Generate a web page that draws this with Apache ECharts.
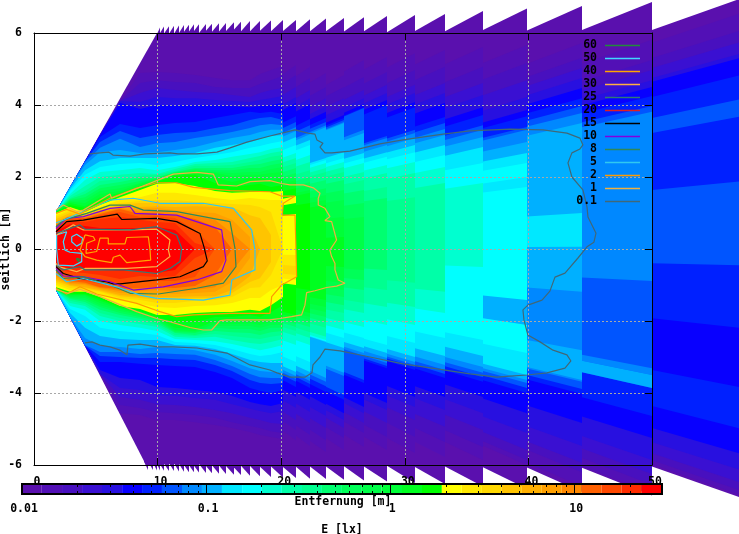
<!DOCTYPE html>
<html>
<head>
<meta charset="utf-8">
<title>Beleuchtungsstaerke</title>
<style>
html,body{margin:0;padding:0;background:#fff}
#chart{width:739px;height:534px}
</style>
<script src="https://cdn.jsdelivr.net/npm/echarts@6/dist/echarts.min.js"></script>
</head>
<body>
<div id="chart"></div>
<script>
// colour steps of the E scale: lower lux limit of each step and its colour
var bandLux = [0.01,0.0128,0.0165,0.0212,0.0272,0.035,0.0449,0.0576,0.074,0.095,0.122,0.157,0.201,0.258,0.332,0.426,0.547,0.702,0.9,1.16,1.49,1.91,2.45,3.15,4.04,5.19,6.66,8.55,11,14.1,18.1,23.3];
var luxMax = 30;
var bandColors = ['#5a10ae','#5210b6','#4810bf','#3a10d2','#2810e0','#0800ff','#0020ff','#0055ff','#0088ff','#00b0ff','#00e8ff','#00ffff','#00ffd0','#00ffa8','#00ff90','#00ff70','#00ff58','#00ff48','#00ff38','#00ff20','#00ff00','#ffff00','#ffe800','#ffd800','#ffc400','#ffb000','#ffa000','#ff8800','#ff6000','#ff4800','#ff2c00','#ff0000'];
var cbMinor = [0.02,0.03,0.04,0.05,0.06,0.07,0.08,0.09,0.2,0.3,0.4,0.5,0.6,0.7,0.8,0.9,2,3,4,5,6,7,8,9,20];
var cbMajor = [0.1,1,10];

// white wedge outline of the lowest step near the lamp
var wedgeX = [1.78,9.95,9.95,9.06,1.78];
var wedgeY = [1.03,6.0,-6.0,-6.0,-1.14];

// outer saw teeth: column edges (m) and lateral reach at each column's right edge
var toothX = [8.86,9.22,9.59,9.93,10.23,10.54,10.9,11.3,11.73,12.16,12.56,12.97,13.37,13.92,14.38,14.94,15.53,16.16,16.72,17.5,18.31,19.17,20.15,21.17,22.33,23.62,25.06,26.7,28.56,30.83,33.25,36.33,39.89,44.34,50,57.28];
var toothTop = [0,0,0,6.15,6.18,6.19,6.2,6.21,6.22,6.23,6.24,6.24,6.25,6.26,6.27,6.28,6.3,6.31,6.33,6.33,6.35,6.36,6.36,6.38,6.4,6.42,6.44,6.47,6.5,6.53,6.61,6.68,6.75,6.86,6.97];
var toothLow = [-6.14,-6.14,-6.15,-6.15,-6.16,-6.17,-6.17,-6.18,-6.19,-6.2,-6.2,-6.21,-6.22,-6.23,-6.24,-6.25,-6.27,-6.28,-6.3,-6.31,-6.33,-6.35,-6.36,-6.38,-6.39,-6.41,-6.43,-6.46,-6.5,-6.53,-6.6,-6.66,-6.75,-6.85,-6.92];

// near field: for each distance, lateral position where E rises above step 1,2,3...
var nearX = [1.78,2.91,4.13,5.34,6.96,8.58,9.95,11.41,13.03,14.64,16.02,17.48,18.29,19.17,20.15];
var nearUp = [
  [1.03,1.03,1.03,1.03,1.03,1.03,1.03,1.03,1.03,1.03,1.03,1.03,1.03,1.03,1.03,1.03,1.03,1.03,1.03,1.03,1,.94,.89,.83,.78,.72,.69,.67,.64,.58,.5],
  [1.72,1.72,1.72,1.72,1.72,1.72,1.72,1.72,1.72,1.67,1.61,1.53,1.47,1.42,1.39,1.36,1.33,1.31,1.28,1.22,1.17,1.11,1.06,1,.94,.92,.89,.86,.83,.78,.69],
  [2.44,2.44,2.44,2.44,2.44,2.44,2.44,2.42,2.33,2.19,2.06,1.92,1.75,1.61,1.53,1.44,1.36,1.28,1.19,1.14,1.03,1,.97,.94,.92,.9,.89,.86,.85,.75,.64],
  [3.17,3.17,3.17,3.17,3.17,3.11,2.97,2.81,2.69,2.44,2.28,2.14,2,1.89,1.78,1.69,1.61,1.53,1.44,1.36,1.22,1.17,1.11,1.08,1.06,1.03,1,.97,.94,.83,.58],
  [4.11,4.11,4.11,4.11,4.06,3.47,3.28,3.06,2.75,2.53,2.36,2.19,2.06,1.94,1.86,1.78,1.69,1.61,1.56,1.5,1.44,1.36,1.28,1.22,1.19,1.17,1.14,1.11,1.03,.89,.58],
  [4.89,4.61,4.33,4.08,3.89,3.36,3.08,2.83,2.67,2.53,2.39,2.25,2.11,2.03,1.97,1.89,1.83,1.81,1.75,1.72,1.64,1.44,1.33,1.28,1.17,1.11,1.03,.97,.89,.81,.58],
  [4.92,4.69,4.47,4.22,4,3.44,3.17,2.94,2.69,2.53,2.33,2.19,2.08,2.06,2,1.97,1.96,1.94,1.92,1.86,1.81,1.56,1.36,1.28,1.19,1.14,1.06,1,.92,.75,.61],
  [4.89,4.64,4.42,4.19,4,3.5,3.22,2.97,2.75,2.58,2.42,2.28,2.22,2.17,2.14,2.13,2.11,2.08,2.07,2.03,1.83,1.56,1.36,1.28,1.17,1.08,1,.94,.86,.72,.53],
  [4.83,4.61,4.36,4.19,4,3.53,3.25,3.08,2.83,2.67,2.53,2.42,2.36,2.31,2.25,2.22,2.19,2.17,2.14,2.06,1.75,1.5,1.31,1.28,1.19,1.03,.92,.83,.53,.17,0],
  [4.75,4.5,4.33,4.14,4,3.64,3.36,3.17,2.97,2.81,2.61,2.47,2.39,2.31,2.25,2.19,2.14,2.11,2,1.83,1.61,1.42,1.28,1.19,1.17,1,.81,.61,0,0],
  [4.69,4.47,4.28,4.11,3.97,3.72,3.44,3.25,3.08,2.89,2.69,2.56,2.42,2.33,2.25,2.19,2.11,2.03,1.86,1.72,1.56,1.36,1.25,1.17,1.14,.81,.44,0],
  [4.69,4.47,4.22,4.08,3.94,3.81,3.58,3.36,3.17,2.97,2.81,2.64,2.53,2.42,2.33,2.25,2.14,2.06,1.97,1.78,1.58,1.42,1.22,.94,.61,.33,0],
  [4.86,4.58,4.33,4.14,3.97,3.78,3.64,3.44,3.25,3.06,2.86,2.69,2.58,2.47,2.36,2.25,2.14,2.06,1.97,1.81,1.58,1.39,1.17,.86,0],
  [4.97,4.69,4.42,4.19,4,3.81,3.67,3.47,3.31,3.14,2.94,2.78,2.67,2.56,2.44,2.33,2.22,2.11,1.89,1.72,1.58,1.36,1.03,.39],
  [5.08,4.81,4.47,4.25,4.06,3.75,3.58,3.44,3.31,3.17,3,2.83,2.72,2.61,2.5,2.39,2.28,2.14,1.97,1.78,1.61,1.36,0]
];
var nearLow = [
  [-1.14,-1.14,-1.14,-1.14,-1.14,-1.14,-1.14,-1.14,-1.14,-1.14,-1.14,-1.14,-1.14,-1.14,-1.14,-1.14,-1.14,-1.14,-1.14,-1.11,-1.06,-1,-.94,-.89,-.83,-.78,-.72,-.67,-.61,-.56,-.5],
  [-1.89,-1.89,-1.89,-1.89,-1.89,-1.89,-1.89,-1.89,-1.89,-1.78,-1.67,-1.58,-1.5,-1.44,-1.39,-1.36,-1.33,-1.31,-1.28,-1.25,-1.19,-1.14,-1.08,-1.03,-1,-.97,-.94,-.89,-.81,-.64,-.53],
  [-2.69,-2.69,-2.69,-2.69,-2.69,-2.69,-2.69,-2.67,-2.47,-2.19,-1.86,-1.69,-1.58,-1.53,-1.47,-1.42,-1.36,-1.31,-1.28,-1.25,-1.19,-1.17,-1.11,-1.08,-1.06,-1,-.97,-.94,-.89,-.67,-.53],
  [-3.47,-3.47,-3.47,-3.47,-3.36,-3.14,-2.97,-2.86,-2.69,-2.42,-2.19,-2,-1.86,-1.78,-1.69,-1.61,-1.56,-1.5,-1.44,-1.39,-1.33,-1.25,-1.19,-1.17,-1.14,-1.11,-1.08,-1.06,-.97,-.72,-.58],
  [-4.56,-4.33,-4.11,-3.86,-3.58,-3.14,-3,-2.86,-2.72,-2.5,-2.28,-2.11,-2,-1.92,-1.83,-1.78,-1.72,-1.67,-1.64,-1.61,-1.58,-1.44,-1.36,-1.31,-1.28,-1.22,-1.17,-1.11,-.97,-.83,-.61],
  [-4.61,-4.42,-4.19,-3.92,-3.64,-3.19,-3.03,-2.92,-2.78,-2.53,-2.33,-2.19,-2.08,-2,-1.94,-1.89,-1.83,-1.81,-1.78,-1.72,-1.67,-1.53,-1.42,-1.36,-1.31,-1.22,-1.17,-1.08,-.92,-.75,-.61],
  [-4.75,-4.53,-4.31,-4.06,-3.83,-3.22,-3.03,-2.89,-2.72,-2.53,-2.39,-2.28,-2.17,-2.11,-2.06,-2,-1.97,-1.94,-1.92,-1.89,-1.83,-1.61,-1.5,-1.42,-1.33,-1.22,-1.14,-1.06,-.89,-.78,-.67],
  [-4.75,-4.56,-4.33,-4.08,-3.86,-3.25,-3.06,-2.92,-2.75,-2.67,-2.58,-2.5,-2.44,-2.39,-2.33,-2.31,-2.28,-2.25,-2.19,-2.03,-1.83,-1.64,-1.5,-1.42,-1.33,-1.25,-1.17,-1.08,-.89,-.75,-.58],
  [-4.81,-4.61,-4.39,-4.14,-3.92,-3.28,-3.08,-2.94,-2.81,-2.69,-2.61,-2.53,-2.47,-2.42,-2.39,-2.33,-2.31,-2.28,-2.22,-2.03,-1.78,-1.58,-1.44,-1.36,-1.31,-1.22,-1.14,-1.03,-.78,-.25,0],
  [-4.89,-4.69,-4.47,-4.19,-3.97,-3.42,-3.22,-3.08,-2.94,-2.78,-2.67,-2.56,-2.44,-2.36,-2.28,-2.19,-2.14,-2.08,-2,-1.89,-1.75,-1.56,-1.42,-1.36,-1.31,-1.19,-1.06,-.72,0,0],
  [-4.97,-4.81,-4.56,-4.31,-4.08,-3.58,-3.39,-3.25,-3.11,-2.92,-2.78,-2.64,-2.53,-2.42,-2.31,-2.22,-2.14,-2.08,-2,-1.89,-1.75,-1.5,-1.33,-1.22,-1.14,-.92,-.61,0],
  [-5.08,-4.92,-4.69,-4.44,-4.25,-3.86,-3.64,-3.47,-3.31,-3.08,-2.92,-2.75,-2.61,-2.47,-2.33,-2.22,-2.14,-2.06,-1.97,-1.83,-1.69,-1.36,-1.08,-.92,-.75,-.25,0],
  [-5.17,-4.97,-4.75,-4.5,-4.31,-3.94,-3.72,-3.56,-3.39,-3.14,-2.97,-2.81,-2.64,-2.5,-2.39,-2.28,-2.19,-2.11,-2.03,-1.89,-1.72,-1.36,-1.06,-.81,0],
  [-5.22,-5.06,-4.83,-4.56,-4.36,-4,-3.75,-3.58,-3.42,-3.17,-2.94,-2.75,-2.58,-2.44,-2.31,-2.19,-2.11,-2.03,-1.92,-1.75,-1.56,-1.14,-.72,-.36],
  [-5.28,-5.11,-4.86,-4.5,-4.28,-3.92,-3.72,-3.58,-3.44,-3.17,-2.86,-2.67,-2.5,-2.39,-2.28,-2.19,-2.11,-2.03,-1.92,-1.56,-1.33,-1,0]
];

// far field columns: same step positions, read at each column's right edge
var farX = [20.15,21.17,22.33,23.62,25.06,26.7,28.56,30.83,33.25,36.33,39.89,44.34,50,57.28];
var farUp = [
  [5.11,4.83,4.5,4.22,4.06,3.69,3.53,3.39,3.28,3.11,2.89,2.67,2.53,2.39,2.25,2.11,2,1.92,1.83,1.69,1.47,-.17,-.47],
  [5.06,4.75,4.42,4.19,4.03,3.61,3.44,3.25,3.19,3.03,2.89,2.61,2.42,2.19,2,1.86,1.78,1.64,1.56,1.28],
  [4.89,4.5,4.19,3.97,3.81,3.64,3.53,3.44,3.39,2.53,2.47,2.39,2.25,2.14,1.92,1.69,1.5,1.36,1.22],
  [4.83,4.5,4.19,3.94,3.72,3.64,3.58,3.53,3.5,2.69,2.53,2.42,2.28,2.14,1.92,1.64,1.36,.89,.33],
  [5.25,4.78,4.42,4.19,4.03,3.94,3.92,3.31,3.22,2.67,2.53,2.39,2.14,1.92,1.64,1.28,.89],
  [5.33,4.92,4.56,4.33,4.14,4,3.14,3.08,2.89,2.69,2.56,2.33,2.11,1.72,1.42],
  [5.44,4.97,4.56,4.33,4.08,3.94,3.31,3.22,3.08,2.89,2.69,2.42,2.11,1.44],
  [5.53,5.06,4.61,4.33,4.06,3.67,3.5,3.33,3.17,2.89,2.61,2.28,1.83],
  [5.61,5.06,4.61,4.28,3.94,3.72,3.44,3.31,3.11,2.83,2.39,1.83],
  [5.67,5.17,4.69,4.22,3.86,3.69,3.39,3.31,2.97,2.67,2.39],
  [5.72,5.31,5.03,4.75,4.47,4.19,3.97,3.78,3.5,1],
  [5.81,5.25,4.97,4.69,4.5,4.25,3.97,3.81],
  [6.56,6.08,5.76,5.44,5.32,4.84,1.88]
];
var farLow = [
  [-5.31,-5.03,-4.75,-4.42,-4.11,-3.83,-3.69,-3.61,-3.53,-3.42,-3.14,-2.67,-2.42,-2.28,-2.17,-2.08,-2.03,-1.97,-1.92,-1.83,-1,-.86,-.72],
  [-5.47,-5.17,-4.83,-4.53,-4.19,-3.86,-3.75,-3.67,-3.56,-3.42,-3.14,-2.67,-2.47,-2.31,-2.17,-2.06,-1.97,-1.89,-1.78,-1.14],
  [-5.64,-5.31,-4.97,-4.64,-4.33,-3.97,-3.81,-3.69,-3.58,-2.58,-2.56,-2.53,-2.44,-2.19,-2.03,-1.89,-1.75,-1.61,-1.42],
  [-5.58,-5.25,-4.97,-4.75,-4.56,-4.19,-4.06,-3.53,-3.44,-2.75,-2.47,-2.25,-2.03,-1.78,-1.56,-1.33,-1.14,-.94,-.5],
  [-5.5,-5.11,-4.83,-4.56,-4.39,-3.72,-3.64,-2.97,-2.89,-2.75,-2.47,-2.17,-1.78,-1.5,-1.14,-.86,-.58],
  [-5.58,-5.22,-4.83,-4.47,-4.28,-3.31,-3.25,-3.17,-3.03,-2.89,-2.67,-2.11,-1.61,-1.14,-.58],
  [-5.67,-5.22,-4.75,-4.39,-4.11,-3.36,-3.28,-3.22,-3.14,-3,-2.61,-2.11,-1.61,-.94],
  [-5.78,-5.36,-4.94,-4.47,-4.11,-3.58,-3.47,-3.36,-3.22,-2.97,-2.47,-1.78,-1.19],
  [-5.86,-5.5,-5.03,-4.56,-4.11,-3.69,-3.56,-3.44,-3.28,-2.97,-2.53,-.5],
  [-6,-5.86,-5.58,-5.11,-4.56,-4,-3.86,-3.72,-3.64,-3.5,-2.89],
  [-6.6,-6.2,-5.94,-5.47,-4.83,-4.03,-3.89,-3.69,-1.19,.06],
  [-6.8,-6.55,-6.25,-5.86,-5.25,-4.64,-3.86,-.89],
  [-6.85,-6.72,-6.5,-6.15,-5.7,-5,-.45]
];
// darker or lighter stripes inside a far column: column, from y, to y, step
var farPatchCol = [0,9,9,10,11,11,12,12];
var farPatchA = [1.28,2,-1.42,-2.81,-3.31,-3.5,4.17,-2.2];
var farPatchB = [.97,1.72,-2.11,-3.64,-3.5,-3.86,3.69,-3.85];
var farPatchStep = [20,10,9,9,8,9,7,5];

// isolux lines as [distance, lateral]
var line60 = [[3.45,-.26],[3.72,-.29],[3.59,-.35],[3.45,-.29],[3.45,-.26]];
var line50a = [[1.83,.39],[2.64,.48],[2.37,.2],[2.51,-.03],[2.91,-.09],[3.86,-.12],[3.86,-.35],[3.18,-.47],[1.97,-.45],[1.83,-.03],[1.83,.39]];
var line50b = [[3.05,.34],[3.45,.41],[3.94,.3],[3.86,.16],[3.45,.08],[3.05,.2],[3.05,.34]];
var line40 = [[4.13,.39],[4.8,.34],[4.94,.25],[4.26,.16],[4.21,-.12],[5.07,-.07],[5.34,.3],[6.01,.3],[6.01,.14],[7.36,.14],[7.5,.32],[9.25,.34],[9.39,-.03],[9.44,-.31],[7.5,-.38],[6.96,-.17],[6.42,-.23],[6.28,-.38],[5.07,-.31],[4.13,-.21],[3.72,-.03],[4.13,.39]];
var line30 = [[1.83,.39],[3.18,.67],[3.99,.53],[7.77,.53],[9.92,.55],[11,.25],[10.87,-.03],[11,-.21],[9.92,-.49],[7.5,-.54],[4.13,-.54],[3.45,-.63],[1.97,-.49],[1.78,-.4]];
var line25 = [[1.78,.43],[3.72,.67],[4.13,.55],[7.77,.53],[9.92,.62],[11.54,.39],[11.95,.02],[11.81,-.35],[11,-.54],[9.92,-.68],[7.23,-.58],[4.13,-.58],[3.72,-.49],[2.37,-.58],[1.78,-.45]];
var line20 = [];
var line15 = [[1.78,.48],[2.64,.76],[3.99,.8],[6.74,.97],[7.09,.82],[9.92,.85],[11.54,.76],[13.43,.43],[13.75,.06],[14.02,-.33],[13.7,-.49],[11.81,-.77],[9.92,-.86],[6.96,-.97],[6.42,-.97],[5.88,-.91],[3.72,-.82],[2.37,-.68],[1.78,-.49]];
var line10 = [[1.78,.57],[2.64,.85],[3.99,.9],[6.15,1.13],[7.77,1.18],[8.17,.99],[11.54,.94],[15.18,.53],[15.53,-.31],[15.18,-.63],[13.16,-.86],[10.46,-1.05],[8.04,-1.14],[6.15,-.91],[3.99,-.77],[2.37,-.75],[1.78,-.54]];
var line8 = [[1.78,.62],[2.37,.8],[4.26,.99],[6.15,1.22],[7.77,1.22],[8.85,1.08],[11.54,1.04],[15.86,.76],[16.26,.02],[16.34,-.49],[15.32,-.95],[13.16,-1.09],[10.06,-1.25],[7.77,-1.23],[6.15,-1],[3.99,-.77],[2.37,-.82],[1.78,-.58]];
var line5 = [[1.78,.73],[2.37,.8],[3.99,1.04],[6.15,1.36],[8.04,1.41],[10.19,1.27],[13.7,1.27],[16.13,1.13],[17.61,.53],[17.88,-.03],[17.88,-.58],[16,-.86],[15.86,-1.28],[13.7,-1.42],[9.92,-1.37],[8.58,-1.28],[6.69,-1.05],[3.99,-.82],[2.64,-.91],[1.78,-.68]];
var line2 = [[1.78,.99],[2.64,1.1],[3.72,.97],[6.15,1.41],[8.31,1.69],[9.92,1.84],[11.54,1.84],[12.89,1.71],[15.86,1.62],[19.09,1.59],[20.04,1.47],[21.12,1.47],[20.17,1.27],[20.09,.94],[21.12,.94],[21.25,-.77],[20.04,-1],[19.23,-1.32],[19.09,-1.79],[15.86,-1.79],[12.89,-1.83],[11.54,-1.88],[9.92,-1.71],[8.31,-1.51],[5.07,-1.25],[3.72,-1.05],[2.64,-1.25],[1.78,-1.09]];
var line1 = [[1.78,1.08],[2.37,1.22],[3.45,1.04],[3.99,1.08],[6.15,1.53],[6.28,1.41],[8.31,1.68],[9.92,1.9],[11.27,2.08],[13.16,2.13],[14.51,2.08],[14.91,1.78],[16.4,1.75],[17.48,1.87],[19.09,1.9],[20.03,1.82],[20.71,1.78],[21.79,1.78],[22.6,1.7],[23.14,1.55],[23,1.41],[23,1.22],[23.54,1.13],[23.94,.9],[23.54,.79],[24.08,.76],[24.48,.25],[23.94,-.03],[24.08,-.21],[24.35,-.4],[24.35,-.58],[24.62,-.86],[25.16,-.95],[24.48,-1.03],[23.67,-1.07],[22.73,-1.16],[22.06,-1.21],[21.92,-1.56],[21.65,-1.83],[20.84,-1.88],[19.9,-1.93],[19.09,-1.97],[15.59,-1.97],[15.05,-1.99],[14.37,-2.25],[13.7,-2.25],[12.62,-2.18],[11,-2.02],[9.92,-1.93],[8.31,-1.74],[6.69,-1.51],[5.07,-1.28],[3.72,-1.12],[2.78,-1.23],[2.1,-1.16],[1.78,-1.12]];
var line01 = [[4.45,2.64],[5.34,2.67],[6.07,2.69],[6.39,2.61],[7.77,2.58],[8.98,2.64],[11,2.67],[11.65,2.64],[13.19,2.64],[14.8,2.69],[15.86,2.81],[17.23,2.97],[19.09,3.14],[20.06,3.22],[21.11,3.31],[22.17,3.22],[22.73,3.19],[22.89,3.03],[23.38,2.94],[23.14,2.83],[23.54,2.67],[24.11,2.67],[25.56,2.72],[27.99,2.92],[29.85,3.03],[33.09,3.19],[35.27,3.28],[38.51,3.33],[41.18,3.31],[43.12,3.22],[44.17,3.08],[44.41,2.89],[44.17,2.78],[43.52,2.67],[43.2,2.39],[43.52,2],[44.41,1.64],[44.74,1.17],[44.82,.89],[45.47,.44],[45.3,.19],[44.74,.06],[44.01,-.25],[42.96,-.67],[42.15,-.78],[41.74,-1.17],[41.1,-1.42],[39.96,-1.56],[39.56,-1.69],[39.64,-1.97],[39.96,-2.39],[40.94,-2.58],[41.99,-2.81],[43.12,-2.94],[43.44,-3.11],[42.96,-3.31],[41.5,-3.44],[39.88,-3.5],[38.51,-3.53],[37.46,-3.56],[35.27,-3.47],[32.6,-3.33],[29.85,-3.19],[27.18,-3],[24.76,-2.83],[23.54,-2.78],[23.14,-3],[22.57,-3.22],[22.49,-3.44],[21.92,-3.56],[20.71,-3.56],[19.66,-3.44],[19.09,-3.36],[17.47,-3.22],[15.61,-2.89],[13.19,-2.75],[11.25,-2.72],[10.03,-2.72],[8.58,-2.64],[7.6,-2.67],[7.52,-2.94],[6.96,-2.81],[6.15,-2.72],[5.34,-2.67],[4.69,-2.58],[4.13,-2.61]];

var lineNames = ['60','50','40','30','25','20','15','10','8','5','2','1','0.1'];
var lineColors = ['#228b3c','#40d8ff','#ffa500','#ffb040','#2f7878','#e02020','#000000','#8000e0','#2f8858','#30c8f0','#ff9a00','#f0b040','#406878'];
var lineParts = [[line60],[line50a,line50b],[line40],[line30],[line25],[line20],[line15],[line10],[line8],[line5],[line2],[line1],[line01]];

var font = 'DejaVu Sans Mono';

function quad(x0, x1, up, low) {
    var r = x0 / x1;
    return [[x0, up * r], [x1, up], [x1, low], [x0, low * r]];
}

function buildCells() {
    var cells = [];
    var i, k;
    var wedge = [];
    for (i = 0; i < wedgeX.length; i++) wedge.push([wedgeX[i], wedgeY[i]]);
    cells.push({ pts: wedge, step: 0 });
    for (i = 0; i < toothLow.length; i++) {
        cells.push({ pts: quad(toothX[i], toothX[i + 1], toothTop[i], toothLow[i]), step: 0 });
    }
    // near field polygons, lowest step first so brighter ones sit on top
    for (k = 0; k < 31; k++) {
        var up = [], low = [];
        for (i = 0; i < nearX.length && nearUp[i][k] !== undefined; i++) {
            up.push([nearX[i], nearUp[i][k]]);
            low.unshift([nearX[i], nearLow[i][k]]);
        }
        cells.push({ pts: up.concat(low), step: k + 1 });
    }
    for (i = 0; i < farUp.length; i++) {
        for (k = 0; k < farUp[i].length; k++) {
            cells.push({ pts: quad(farX[i], farX[i + 1], farUp[i][k], farLow[i][k]), step: k + 1 });
        }
    }
    for (i = 0; i < farPatchCol.length; i++) {
        var c = farPatchCol[i];
        cells.push({ pts: quad(farX[c], farX[c + 1], farPatchA[i], farPatchB[i]), step: farPatchStep[i] });
    }
    return cells;
}

var cells = buildCells();

function renderCell(params, api) {
    var cell = cells[params.dataIndex];
    var pts = cell.pts.map(function (p) {
        var c = api.coord(p);
        return [Math.round(c[0]), c[1]];
    });
    return {
        type: 'polygon',
        z2: params.dataIndex,
        shape: { points: pts },
        style: { fill: bandColors[cell.step], stroke: null }
    };
}

function renderBand(params, api) {
    var i = params.dataIndex;
    var next = i + 1 < bandLux.length ? bandLux[i + 1] : luxMax;
    var a = api.coord([bandLux[i], 0]);
    var b = api.coord([next, 1]);
    return {
        type: 'rect',
        shape: { x: a[0], y: b[1], width: b[0] - a[0], height: a[1] - b[1] },
        style: { fill: bandColors[i] }
    };
}

function renderCbTick(params, api) {
    var v = api.value(0);
    var major = api.value(1);
    var a = api.coord([v, 0]);
    var b = api.coord([v, 1]);
    var x = Math.round(a[0]) + 0.5;
    var lineStyle = { stroke: '#000', lineWidth: 1 };
    if (major) {
        return { type: 'line', shape: { x1: x, y1: a[1], x2: x, y2: b[1] }, style: lineStyle };
    }
    return {
        type: 'group',
        children: [
            { type: 'line', shape: { x1: x, y1: a[1], x2: x, y2: a[1] - 3 }, style: lineStyle },
            { type: 'line', shape: { x1: x, y1: b[1], x2: x, y2: b[1] + 3 }, style: lineStyle }
        ]
    };
}

var chart = echarts.init(document.getElementById('chart'), null, { renderer: 'canvas' });

var labelText = { fontFamily: font, fontWeight: 'bold', fontSize: 11.5, color: '#000' };

var series = [{
    type: 'custom',
    xAxisIndex: 0,
    yAxisIndex: 0,
    z: 1,
    clip: false,
    silent: true,
    animation: false,
    renderItem: renderCell,
    data: cells.map(function (c, i) { return [i]; }),
    encode: { x: -1, y: -1 }
}, {
    type: 'custom',
    xAxisIndex: 2,
    yAxisIndex: 2,
    z: 15,
    clip: false,
    silent: true,
    animation: false,
    renderItem: renderBand,
    data: bandLux.map(function (v) { return [v]; }),
    encode: { x: 0, y: -1 }
}, {
    type: 'custom',
    xAxisIndex: 2,
    yAxisIndex: 2,
    z: 21,
    clip: false,
    silent: true,
    animation: false,
    renderItem: renderCbTick,
    data: cbMinor.map(function (v) { return [v, 0]; }).concat(cbMajor.map(function (v) { return [v, 1]; })),
    encode: { x: 0, y: -1 }
}];

lineNames.forEach(function (name, i) {
    lineParts[i].forEach(function (part) {
        series.push({
            type: 'line',
            name: name,
            xAxisIndex: 0,
            yAxisIndex: 0,
            z: 3,
            data: part,
            symbol: 'none',
            showSymbol: false,
            silent: true,
            animation: false,
            lineStyle: { color: lineColors[i], width: 1.2 },
            itemStyle: { color: lineColors[i] }
        });
    });
});

var gridDash = { show: true, lineStyle: { color: '#a8a8a8', type: [2, 2], width: 1 } };
var tickIn = { show: true, inside: true, length: 7, lineStyle: { color: '#000', width: 1 } };
var axisBlack = { show: true, onZero: false, lineStyle: { color: '#000', width: 1 } };

chart.setOption({
    animation: false,
    backgroundColor: '#fff',
    grid: [
        { left: 34, top: 33, width: 618, height: 432, show: false, outerBoundsMode: 'none', containLabel: false },
        { left: 22, top: 484, width: 640, height: 10, show: true, z: 20, backgroundColor: 'transparent', borderColor: '#000', borderWidth: 2, outerBoundsMode: 'none', containLabel: false }
    ],
    legend: {
        show: true,
        data: lineNames.map(function (name, i) {
            return { name: name, itemStyle: { color: lineColors[i], opacity: 1 } };
        }),
        orient: 'vertical',
        align: 'right',
        icon: 'path://M0 0H35V1.7H0Z',
        left: 573,
        top: 39,
        z: 8,
        padding: 0,
        itemWidth: 35,
        itemHeight: 13,
        itemGap: 0,
        selectedMode: false,
        textStyle: { fontFamily: font, fontWeight: 'bold', fontSize: 11.5, color: '#000', width: 24, align: 'right', lineHeight: 13, padding: [0, 3, 0, 0] }
    },
    xAxis: [{
        type: 'value', gridIndex: 0, position: 'bottom', min: 0, max: 50, interval: 10, z: 5,
        name: 'Entfernung [m]', nameLocation: 'middle', nameGap: 31, nameTextStyle: labelText,
        axisLine: axisBlack, axisTick: tickIn, splitLine: gridDash,
        axisLabel: { show: true, margin: 11, padding: [0, 0, 0, 6], fontFamily: font, fontWeight: 'bold', fontSize: 11.5, color: '#000', hideOverlap: false }
    }, {
        type: 'value', gridIndex: 0, position: 'top', min: 0, max: 50, interval: 10, z: 5,
        axisLine: axisBlack, axisTick: tickIn, splitLine: { show: false }, axisLabel: { show: false }
    }, {
        type: 'log', logBase: 10, gridIndex: 1, position: 'bottom', min: 0.01, max: luxMax, z: 22,
        name: 'E [lx]', nameLocation: 'middle', nameGap: 30, nameTextStyle: labelText,
        axisLine: { show: false }, axisTick: { show: false }, splitLine: { show: false },
        axisLabel: { show: true, margin: 9, padding: [0, 0, 0, 4], showMaxLabel: false, fontFamily: font, fontWeight: 'bold', fontSize: 11.5, color: '#000', hideOverlap: false }
    }],
    yAxis: [{
        type: 'value', gridIndex: 0, position: 'left', min: -6, max: 6, interval: 2, z: 5,
        name: 'seitlich [m]', nameLocation: 'middle', nameGap: 22, nameRotate: 90, nameMoveOverlap: false, nameTextStyle: labelText,
        axisLine: axisBlack, axisTick: tickIn, splitLine: gridDash,
        axisLabel: { show: true, margin: 12, fontFamily: font, fontWeight: 'bold', fontSize: 11.5, color: '#000', hideOverlap: false }
    }, {
        type: 'value', gridIndex: 0, position: 'right', min: -6, max: 6, interval: 2, z: 5,
        axisLine: axisBlack, axisTick: tickIn, splitLine: { show: false }, axisLabel: { show: false }
    }, {
        type: 'value', gridIndex: 1, min: 0, max: 1, show: false
    }],
    series: series
});
</script>
</body>
</html>
